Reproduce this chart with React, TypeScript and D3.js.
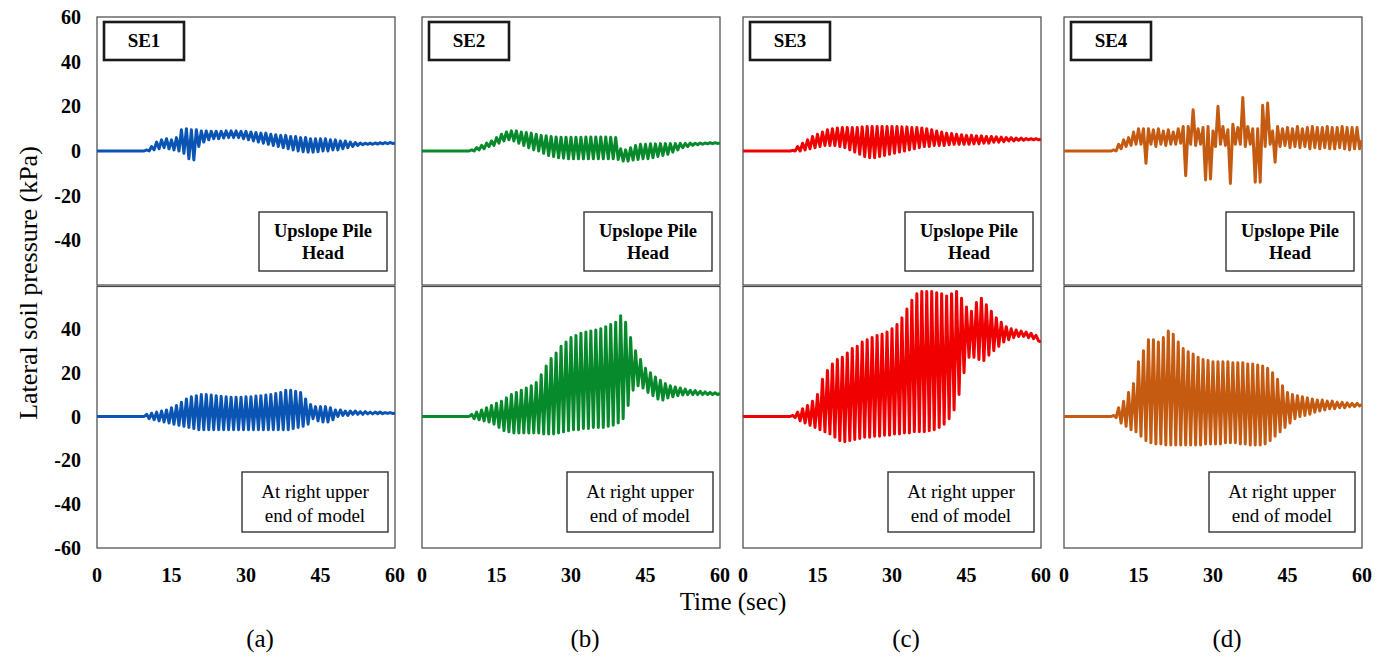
import React from 'react';
import * as d3 from 'd3';

// peak times of each loading cycle (sec)
const cycleT = [10, 11, 12, 13, 14, 15, 16, 17, 18, 19, 20, 21, 22, 23, 24, 25, 26, 27, 28, 29,
  30, 31, 32, 33, 34, 35, 36, 37, 38, 39, 40, 41, 42, 43, 44, 45, 46, 47, 48, 49,
  50, 51, 52, 53, 54, 55, 56, 57, 58, 59];

const columns = ['SE1', 'SE2', 'SE3', 'SE4'];
const colors = ['#0A55B4', '#078A2C', '#F00000', '#C55A11'];
const letters = ['(a)', '(b)', '(c)', '(d)'];
const xTicks = [0, 15, 30, 45, 60];
const yTicksTop = [60, 40, 20, 0, -20, -40];
const yTicksBottom = [40, 20, 0, -20, -40, -60];
const topNote = ['Upslope Pile', 'Head'];
const bottomNote = ['At right upper', 'end of model'];

// upslope pile head: cycle maxima / minima (kPa)
const se1UpHi = [0.5, 2, 4, 5, 5.5, 5, 6, 9.5, 10, 9.5, 9.5, 9, 9, 8.8, 8.8, 8.8, 9, 9, 9, 8.8,
  8.8, 8.5, 8.3, 8, 8, 7.5, 7.3, 7, 7, 6.5, 6.5, 6, 6, 5.5, 5.5, 5.5, 5.5, 5, 5, 4.5,
  4.5, 4, 3.8, 3.6, 3.5, 3.5, 3.6, 3.7, 3.8, 3.8];
const se1UpLo = [0, 0.5, 1, 1.5, 1, 0.5, 0, -1, -3.5, -4, 2, 4, 5, 5.5, 5.5, 5.8, 6, 6, 6, 5.5,
  5, 4.5, 4, 3.5, 3, 2.5, 2, 1.5, 1, 0.5, 0, -0.3, -0.5, -0.5, -0.3, 0, 0, 0.5, 0.5, 1,
  1.5, 2, 2.5, 2.8, 3, 3, 3.1, 3.2, 3.3, 3.4];
const se2UpHi = [0.5, 1.5, 2.5, 3.5, 4.5, 6, 7.5, 8.5, 9, 9, 8.5, 8.3, 8, 7.5, 7, 6.8, 6.5, 6.3, 6.2, 6.2,
  6.2, 6.2, 6.2, 6.3, 6.3, 6.3, 6.3, 6.3, 6.2, 6, 1, 0.5, 1.5, 2.5, 3, 3, 3.2, 3.2, 3.3, 3.3,
  3.3, 3.3, 3.4, 3.4, 3.5, 3.5, 3.6, 3.6, 3.7, 3.7];
const se2UpLo = [0, 0.5, 1, 2, 2.5, 3.5, 4.5, 5, 4.5, 3.5, 2.5, 1.5, 0.5, 0, -1, -2, -2.5, -3, -3.2, -3.5,
  -3.5, -3.5, -3.5, -3.5, -3.5, -3.5, -3.5, -3.5, -3.5, -3.8, -4.5, -4.5, -4, -3.8, -3.5, -3.5, -3, -2.5, -2, -1.5,
  -0.5, 0.5, 1.5, 2, 2.5, 2.8, 3, 3.2, 3.3, 3.4];
const se3UpHi = [0.3, 2, 3.5, 5, 6.5, 7.5, 8.5, 9.5, 10, 10.3, 10.5, 10.5, 10.5, 10.5, 10.8, 11, 11, 11, 11, 11,
  11, 11, 10.8, 10.8, 10.5, 10.5, 10.3, 10, 9.5, 9, 8.5, 8, 7.8, 7.5, 7.3, 7, 7, 6.8, 6.8, 6.5,
  6.5, 6.3, 6.2, 6, 6, 5.8, 5.8, 5.6, 5.5, 5.5];
const se3UpLo = [0, 0, 0.5, 1, 1.5, 2, 2.5, 2.5, 2.5, 2, 1.5, 0.5, -0.5, -1.5, -2.5, -3, -3, -2.5, -2, -1.5,
  -1, -0.5, 0, 0.5, 1, 1.5, 2, 2, 2.5, 2.5, 2.5, 2.8, 3, 3, 3, 3, 3.2, 3.2, 3.5, 3.5,
  4, 4, 4.2, 4.5, 4.5, 4.8, 4.8, 5, 5, 5];
const se4UpHi = [0.5, 3, 5, 6, 8.5, 10, 10, 10, 9.5, 10, 9, 9.5, 8.5, 10, 11, 11, 18.5, 10, 10.5, 11,
  9, 20, 11, 9.5, 12, 10.5, 24, 11, 10, 10, 20.5, 21.5, 9, 11, 10, 10.5, 10, 11, 10, 10.5,
  11, 10.5, 10.5, 11, 10.5, 10.5, 11, 10.5, 10.5, 10.5];
const se4UpLo = [0, 1, 2, 2.5, 3, 3, -5.5, 3, 2, 3, 2.5, 3, 3, 3.5, -11, 3, 2.5, 3, -13, -12.5,
  2, 3, 2.5, -14.5, 3, 3, 2, 3, -14, -14, 2, 3, -5, 2, 2.5, 1.5, 2, 1.5, 2, 1,
  1.5, 1, 1.5, 1, 1, 1.5, 1, 0.5, 1, 1];

// right upper end of model: cycle maxima / minima (kPa)
const se1EndHi = [1, 1.5, 2, 2.5, 3, 4, 5, 6.5, 8, 9, 9.5, 10, 10, 9.8, 9.5, 9.2, 9, 8.8, 8.8, 8.8,
  9, 9, 9.3, 9.5, 9.8, 10, 10.5, 11, 12, 12, 11.5, 11, 8, 5.5, 4.5, 4.5, 4.5, 4, 3, 3,
  2.5, 2.5, 2.5, 2.2, 2.2, 2, 2, 2, 1.8, 1.8];
const se1EndLo = [-1, -1.5, -2, -2.5, -3, -3.5, -4, -4.5, -5, -5.5, -6, -6, -6, -6, -6, -6, -6, -6, -6, -6,
  -6, -6, -6, -6, -6, -6, -6, -6, -6, -5.5, -5, -4.5, -3.5, -1, -2, -2.5, -2.5, -1.5, 0, 0.5,
  0.5, 1, 1, 1, 1.2, 1.2, 1.3, 1.3, 1.4, 1.4];
const se2EndHi = [1, 2, 3, 4, 5, 6, 7, 8.5, 10, 11, 12, 13, 14, 15.5, 19, 23, 26.5, 29, 32, 34,
  36, 37, 38, 38.5, 39, 39.5, 40, 41, 42, 43, 46, 43, 36, 30, 26, 22, 20, 18, 16.5, 15,
  14, 13.5, 13, 12.5, 12, 11.8, 11.5, 11.2, 11, 10.8];
const se2EndLo = [-1, -1.5, -2, -2.5, -3.5, -5, -6.5, -7, -7.5, -7.5, -7.5, -7.5, -7.5, -7.5, -8, -8, -8, -7.5, -7, -6.5,
  -6, -6, -5.5, -5.5, -5, -5, -5, -4.5, -4, -3, -1, 5, 12, 14, 13, 11, 9.5, 8, 7.5, 8.5,
  9, 9.5, 9.8, 10, 10, 10, 10, 10, 10, 10];
const se3EndHi = [0.5, 2, 3.5, 5, 7, 10, 17, 21, 24, 26, 27, 29, 31, 32, 34, 35, 36, 37, 37.5, 38.5,
  40, 42, 45, 49, 53, 56, 57, 57, 57, 56.5, 56, 55, 56, 57, 54, 50, 48, 52, 54, 51,
  48, 45, 43, 41, 40, 39.5, 39, 38.5, 38, 37];
const se3EndLo = [-0.5, -2, -3, -4, -5, -6, -7, -8, -9.5, -11, -11.5, -11, -10.5, -10, -9.5, -9.5, -9, -9, -8.5, -8.5,
  -8, -8, -7.5, -7.5, -7, -7, -7, -6.5, -6, -5, -3.5, -1, 3, 10, 20, 27, 27, 26, 25.5, 28,
  30, 32, 34, 35, 36, 36.5, 36.5, 36, 35.5, 34.5];
const se4EndHi = [0.5, 4, 7, 11, 15, 25, 30, 35, 35, 34, 36, 39, 37.5, 34, 31, 29.5, 28.5, 27, 26, 25.5,
  25, 25, 25, 25, 24.5, 24.5, 24.5, 24, 24, 23.5, 23, 22, 20, 17, 14, 11, 10, 9.5, 9, 8.5,
  8, 7.5, 7.5, 7, 7, 6.5, 6.5, 6.2, 6, 6];
const se4EndLo = [-0.5, -3, -4.5, -6, -7, -9, -11, -12, -12.5, -12.5, -13, -13, -13, -13, -13, -13, -13, -13, -12.5, -12.5,
  -12.5, -12.5, -12, -12, -12, -12.5, -12.5, -13, -13, -13, -12.5, -11, -9, -7, -5, -3, -1, 0, 0.5, 1,
  2, 2.5, 3, 3.5, 3.5, 4, 4, 4.5, 4.5, 4.8];

// values at t = 60 s
const upEndValues = [3.5, 3.6, 5.2, 5];
const endEndValues = [1.5, 10.5, 34, 5.5];

const upHi = [se1UpHi, se2UpHi, se3UpHi, se4UpHi];
const upLo = [se1UpLo, se2UpLo, se3UpLo, se4UpLo];
const endHi = [se1EndHi, se2EndHi, se3EndHi, se4EndHi];
const endLo = [se1EndLo, se2EndLo, se3EndLo, se4EndLo];

const W = 1390;
const H = 665;
const colX = [97, 422, 743, 1064];
const panelW = 298;
const topY = 17;
const midY = 285;
const botY = 548;
const serif = '"Liberation Serif", "Times New Roman", serif';

function tracePoints(hi: number[], lo: number[], last: number): [number, number][] {
  const pts: [number, number][] = [[0, 0], [9.5, 0]];
  cycleT.forEach((t, i) => {
    pts.push([t, hi[i]]);
    pts.push([t + 0.5, lo[i]]);
  });
  pts.push([60, last]);
  return pts;
}

function Column({ i }: { i: number }) {
  const x0 = colX[i];
  const x = d3.scaleLinear().domain([0, 60]).range([x0, x0 + panelW]);
  const yTop = d3.scaleLinear().domain([-60, 60]).range([midY, topY]);
  const yBot = d3.scaleLinear().domain([-60, 60]).range([botY, midY]);

  const lineTop = d3.line<[number, number]>().x(d => x(d[0])).y(d => yTop(d[1]));
  const lineBot = d3.line<[number, number]>().x(d => x(d[0])).y(d => yBot(d[1]));

  const upPath = lineTop(tracePoints(upHi[i], upLo[i], upEndValues[i])) || '';
  const endPath = lineBot(tracePoints(endHi[i], endLo[i], endEndValues[i])) || '';
  const right = x0 + panelW;

  return (
    <g>
      <defs>
        <clipPath id={`clipTop${i}`}>
          <rect x={x0} y={topY} width={panelW} height={midY - topY} />
        </clipPath>
        <clipPath id={`clipBot${i}`}>
          <rect x={x0} y={midY} width={panelW} height={botY - midY} />
        </clipPath>
      </defs>
      <rect x={x0} y={topY} width={panelW} height={midY - topY} fill="#fff" stroke="#454545" strokeWidth={1.2} />
      <rect x={x0} y={midY + 1.5} width={panelW} height={botY - midY - 1.5} fill="#fff" stroke="#454545" strokeWidth={1.2} />

      <path d={upPath} fill="none" stroke={colors[i]} strokeWidth={3} strokeLinejoin="round" clipPath={`url(#clipTop${i})`} />
      <path d={endPath} fill="none" stroke={colors[i]} strokeWidth={3} strokeLinejoin="round" clipPath={`url(#clipBot${i})`} />

      {/* test name */}
      <rect x={x0 + 7} y={topY + 5} width={80} height={38} fill="#fff" stroke="#1a1a1a" strokeWidth={2.6} />
      <text x={x0 + 47} y={topY + 30} textAnchor="middle" fontFamily={serif} fontWeight="bold" fontSize={19}>
        {columns[i]}
      </text>

      {/* location notes */}
      <rect x={right - 136} y={212} width={128} height={59} fill="#fff" stroke="#333" strokeWidth={1.4} />
      {topNote.map((s, k) => (
        <text key={k} x={right - 72} y={237 + k * 22} textAnchor="middle" fontFamily={serif} fontWeight="bold" fontSize={18.5}>
          {s}
        </text>
      ))}
      <rect x={right - 153} y={472} width={146} height={60} fill="#fff" stroke="#333" strokeWidth={1.4} />
      {bottomNote.map((s, k) => (
        <text key={k} x={right - 80} y={498 + k * 24} textAnchor="middle" fontFamily={serif} fontSize={19}>
          {s}
        </text>
      ))}

      {xTicks.map(t => (
        <text key={t} x={x(t)} y={582} textAnchor="middle" fontFamily={serif} fontWeight="bold" fontSize={20}>
          {t}
        </text>
      ))}

      <text x={x0 + panelW / 2 + 14} y={647} textAnchor="middle" fontFamily={serif} fontSize={25}>
        {letters[i]}
      </text>

      {i === 0 && (
        <g>
          {yTicksTop.map(v => (
            <text key={`t${v}`} x={81} y={yTop(v) + 7} textAnchor="end" fontFamily={serif} fontWeight="bold" fontSize={20}>
              {v}
            </text>
          ))}
          {yTicksBottom.map(v => (
            <text key={`b${v}`} x={81} y={yBot(v) + 7} textAnchor="end" fontFamily={serif} fontWeight="bold" fontSize={20}>
              {v}
            </text>
          ))}
        </g>
      )}
    </g>
  );
}

export default function App() {
  return (
    <svg width={W} height={H} style={{ position: 'absolute', left: 0, top: 0, display: 'block', background: '#fff' }}>
      <rect x={0} y={0} width={W} height={H} fill="#fff" />
      {columns.map((_, i) => (
        <Column key={i} i={i} />
      ))}
      <text
        transform={`translate(37,283) rotate(-90)`}
        textAnchor="middle"
        fontFamily={serif}
        fontSize={26}
      >
        Lateral soil pressure (kPa)
      </text>
      <text x={733} y={610} textAnchor="middle" fontFamily={serif} fontSize={25}>
        Time (sec)
      </text>
    </svg>
  );
}
